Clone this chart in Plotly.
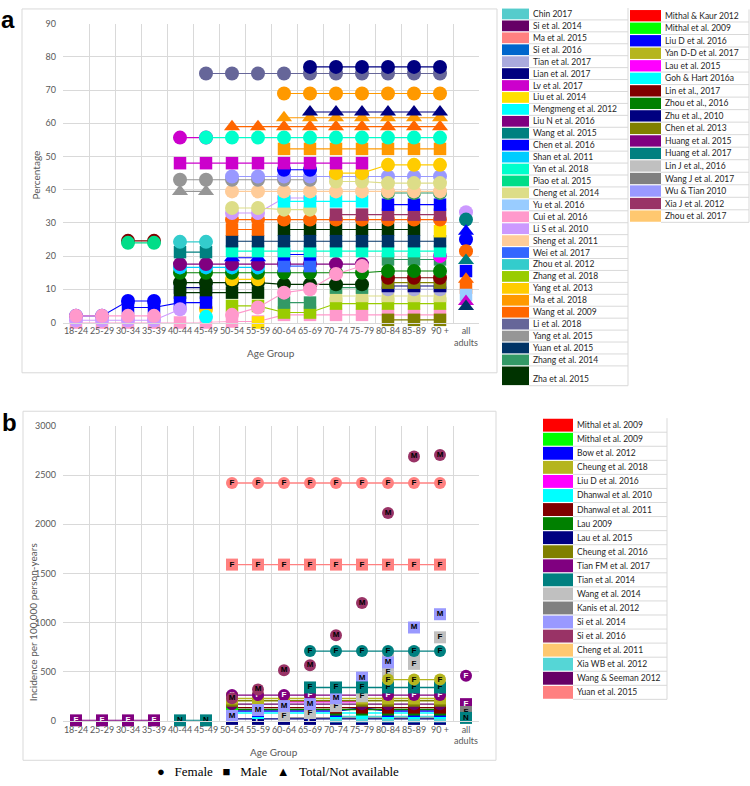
import plotly.graph_objects as go

N = None
W, H = 750, 786

# ---------------- categories ----------------
AGE = ["18-24", "25-29", "30-34", "35-39", "40-44", "45-49", "50-54", "55-59",
       "60-64", "65-69", "70-74", "75-79", "80-84", "85-89", "90 +", "all adults"]
AGE_TICKTEXT = AGE[:-1] + ["all<br>adults"]
AGES = AGE[:15]

# ---------------- panel a legend ----------------
A_LEG1 = ["Chin 2017", "Si et al. 2014", "Ma et al. 2015", "Si et al. 2016", "Tian et al. 2017",
          "Lian et al. 2017", "Lv et al. 2017", "Liu et al. 2014", "Mengmeng et al. 2012",
          "Liu N et al. 2016", "Wang et al. 2015", "Chen et al. 2016", "Shan et al. 2011",
          "Yan et al. 2018", "Piao et al. 2015", "Cheng et al. 2014", "Yu et al. 2016",
          "Cui et al. 2016", "Li S et al. 2010", "Sheng et al. 2011", "Wei et al. 2017",
          "Zhou et al. 2012", "Zhang et al. 2018", "Yang et al. 2013", "Ma et al. 2018",
          "Wang et al. 2009", "Li et al. 2018", "Yang et al. 2015", "Yuan et al. 2015",
          "Zhang et al. 2014", "Zha et al. 2015"]
A_COL1 = ["#55CCCC", "#660066", "#FF8080", "#0066CC", "#AAAADD", "#000080", "#CC00CC",
          "#FFE000", "#00FFFF", "#800080", "#008080", "#0000FF", "#00CCFF", "#00FFCC",
          "#00DD88", "#DDDD88", "#99CCFF", "#FF99CC", "#CC99FF", "#FFCC99", "#3366FF",
          "#33CCCC", "#99CC00", "#FFCC00", "#FF9900", "#FF6600", "#666699", "#969696",
          "#003366", "#339966", "#003300"]
A_LEG2 = ["Mithal & Kaur 2012", "Mithal et al. 2009", "Liu D et al. 2016", "Yan D-D et al. 2017",
          "Lau et al. 2015", "Goh & Hart 2016a", "Lin et al., 2017", "Zhou et al., 2016",
          "Zhu et al., 2010", "Chen et al. 2013", "Huang et al. 2015", "Huang et al. 2017",
          "Lin J et al., 2016", "Wang J et al. 2017", "Wu & Tian 2010", "Xia J et al. 2012",
          "Zhou et al. 2017"]
A_COL2 = ["#FF0000", "#00FF00", "#0000FF", "#B5B51E", "#FF00FF", "#00FFFF", "#800000",
          "#008000", "#000080", "#808000", "#800080", "#008080", "#C0C0C0", "#808080",
          "#9999FF", "#993366", "#FFC870"]

# ---------------- panel b legend ----------------
B_LEG = ["Mithal et al. 2009", "Mithal et al. 2009", "Bow et al. 2012", "Cheung et al. 2018",
         "Liu D et al. 2016", "Dhanwal et al. 2010", "Dhanwal et al. 2011", "Lau 2009",
         "Lau et al. 2015", "Cheung et al. 2016", "Tian FM et al. 2017", "Tian et al. 2014",
         "Wang et al. 2014", "Kanis et al. 2012", "Si et al. 2014", "Si et al. 2016",
         "Cheng et al. 2011", "Xia WB et al. 2012", "Wang & Seeman 2012", "Yuan et al. 2015"]
B_COL = ["#FF0000", "#00FF00", "#0000FF", "#B5B51E", "#FF00FF", "#00FFFF", "#800000",
         "#008000", "#000080", "#808000", "#800080", "#008080", "#C0C0C0", "#808080",
         "#9999FF", "#993366", "#FFC870", "#55D6D6", "#660066", "#FF8080"]

# ---------------- panel a values (percentage, by age group) ----------------
a_li2018_c = [N, N, N, N, N, 75, 75, 75, 75, 75, 75, 75, 75, 75, 75]
a_lian2017_c = [N, N, N, N, N, N, N, N, N, 77, 77, 77, 77, 77, 77]
a_ma2018_c = [N, N, N, N, N, N, N, N, 69, 69, 69, 69, 69, 69, 69]
a_lian2017_t = [N, N, N, N, N, N, N, N, N, 63.4, 63.4, 63.4, 63.4, 63.4, 63.4]
a_ma2018_t = [N, N, N, N, N, N, N, N, 61.7, 61.7, 61.7, 61.7, 61.7, 61.7, 61.7]
a_wang2009_t = [N, N, N, N, N, N, 59, 59, 59, 59, 59, 59, 59, 59, 59]
a_lv2017_c = [N, N, N, N, 55.7, 55.7, N, N, N, N, N, N, N, N, N]
a_yan2018_c = [N, N, N, N, N, 55.7, 55.7, 55.7, 55.7, 55.7, 55.7, 55.7, 55.7, 55.7, 55.7]
a_ma2018_s = [N, N, N, N, N, N, N, N, 52.3, 52.3, 52.3, 52.3, 52.3, 52.3, 52.3]
a_lv2017_s = [N, N, N, N, 48, 48, 48, 48, 48, 48, 48, 48, N, N, N]
a_yang2015_c = [N, N, N, N, 43, 43, 43, 43, 43, 43, N, N, N, N, N]
a_yang2015_t = [N, N, N, N, 39.5, 39.5, N, N, N, N, N, N, N, N, N]
a_wutian_c = [N, N, N, N, N, N, 44, 44, 44, 44, 44, 44, 44, 44, 44]
a_chen2016_c = [2, 2, 6.5, 6.5, N, N, N, N, N, N, N, N, N, N, N]
a_chen2016_c2 = [N, N, N, N, N, N, N, N, 46, 46, N, N, N, N, N]
a_sheng2011_c = [N, N, N, N, N, N, 39.5, 39.5, 39.5, 39.5, 39.5, 39.5, 39.5, 39.5, 39.5]
a_yang2013_c = [N, N, N, N, N, N, 13, 13, N, N, N, N, N, N, N]
a_yang2013_c2 = [N, N, N, N, N, 4, N, N, N, N, N, N, N, N, N]
a_yang2013_c3 = [N, N, N, N, N, N, N, N, N, N, 45, 45, 47.5, 47.5, 47.5]
a_cheng2014_c = [N, N, N, N, N, N, 34.5, 34.5, 34, 34, N, N, N, N, N]
a_cheng2014_c2 = [N, N, N, N, N, N, N, N, N, N, 42.5, 42.5, 42, 42, 42]
a_lis2010_c = [0.7, 0.7, 0.7, 0.7, 4, N, N, N, N, N, N, N, N, N, N]
a_lis2010_c2 = [N, N, N, N, N, N, 33, 33, 37.5, 37.5, N, N, N, N, N]
a_mengmeng_s = [N, N, N, N, N, N, N, N, 36.5, 36.5, 36.5, 36.5, N, N, N]
a_mengmeng_c = [N, N, N, N, N, 1.7, N, N, N, N, N, N, N, N, N]
a_chen2016_s = [N, N, 4.5, 4.5, 6, 6, N, N, N, N, N, N, N, N, N]
a_chen2016_s2 = [N, N, N, N, N, N, N, N, 20.5, 20.5, N, N, N, N, N]
a_chen2016_s3 = [N, N, N, N, N, N, N, N, N, N, N, N, 35.5, 35.5, 35.5]
a_wei2017_s = [N, N, N, N, N, N, N, N, 17, 17, N, N, N, N, N]
a_zhang2014_c = [N, N, N, N, N, N, N, N, N, N, N, N, 39, 39, 39]
a_xiaj_s = [N, N, N, N, N, N, N, N, N, N, 32.5, 32.5, 32.5, 32.5, 32.5]
a_wang2009_c = [N, N, N, N, N, N, 31, 31, 31, 31, 31, 31, 31, 31, 31]
a_wang2009_s = [N, N, N, N, N, N, 28, 28, N, N, N, N, N, N, N]
a_zha2015_s = [N, N, N, N, 9, 9, 9, 9, N, N, N, N, N, N, N]
a_zha2015_s2 = [N, N, N, N, N, N, N, N, 28, 28, 28, 28, 28, 28, N]
a_zha2015_c = [N, N, N, N, 12, 12, 12, 12, 11.5, 11.5, 11.5, 11.5, N, N, N]
a_liu2014_s = [N, N, N, N, N, N, N, 0, N, N, N, N, N, N, N]
a_liu2014_s2 = [N, N, N, N, N, N, N, N, N, N, N, N, N, N, 27.5]
a_yuan2015_s = [N, N, N, N, N, N, 24.5, 24.5, 24.5, 24.5, 24.5, 24.5, 24.5, 24.5, 24.5]
a_yan2018_s = [N, N, N, N, N, N, 21.5, 21.5, 21.5, 21.5, 21.5, 21.5, 21.5, 21.5, 21.5]
a_zhou2012_c = [N, N, N, N, 24.3, 24.3, N, N, N, N, N, N, N, N, N]
a_lin2017_c = [N, N, 24.6, 24.6, N, N, N, N, N, N, N, N, N, N, N]
a_lin2017_c2 = [N, N, N, N, N, N, N, N, N, N, N, N, 13.5, 13.5, 13.5]
a_piao2015_c = [N, N, 24, 24, N, N, N, N, N, N, N, N, N, N, N]
a_wang2015_s = [N, N, N, N, 21.2, 21.2, N, N, N, N, N, N, N, N, N]
a_chen2016_t = [N, N, N, N, N, N, 19.5, 19.5, N, N, N, N, N, N, N]
a_liun2016_c = [N, N, N, N, 17.6, 17.6, 17.6, 17.6, 17.6, 17.6, 17.6, 17.6, N, N, N]
a_shan2011_c = [N, N, N, N, 16.6, 16.6, 16.6, 16.6, N, N, N, N, N, N, N]
a_zhou2016_c = [N, N, N, N, 15, 15, 15, 15, 15, 15, 15, 15, 15.5, 15.5, 15.5]
a_cui2016_c = [2, 2, 2, 2, N, N, 2.3, 4.5, 9, 10, 14.6, 17, N, N, N]
a_cui2016_s = [0, 0, 0, 0, 0, 0, 0.3, 0.3, 2.3, 2.3, 2.3, 2.3, 2.3, 2.3, 2.3]
a_zhang2018_s = [N, N, N, N, N, N, 5, 5, 3, 3, 5.7, 5.7, 5.7, 5.7, 5.7]
a_zhang2014_s = [N, N, N, N, N, N, N, N, 6, 6, N, N, N, N, N]
a_zhang2014_s2 = [N, N, N, N, N, N, N, N, N, N, 10.5, 10.5, N, N, N]
a_zhang2014_s3 = [N, N, N, N, N, N, N, N, N, N, N, N, 19, 19, 19]
a_lau2015_c = [N, N, N, N, N, N, N, N, N, N, N, N, N, N, 20]
a_chen2013_s = [N, N, N, N, N, N, N, N, N, N, N, N, 0.8, 0.8, 0.8]
a_chen2013_s2 = [N, N, N, N, N, N, N, N, N, N, N, N, 12, 12, 12]
a_zhu2010_s = [N, N, N, N, 10.5, 10.5, N, N, N, N, N, N, N, N, N]
a_zhu2010_s2 = [N, N, N, N, N, N, N, N, N, N, N, N, 11, 11, 11]
a_cheng2014_s = [N, N, N, N, N, N, N, N, N, N, 8, 8, 8, 8, 8]
a_tian2017_c = [N, N, N, N, N, N, N, N, N, N, N, N, 10, 10, 10]

# "all adults" column of panel a
a_all_study = ["Li S et al. 2010", "Huang et al. 2017", "Liu D et al. 2016", "Liu D et al. 2016",
               "Wang et al. 2009", "Huang et al. 2017", "Chen et al. 2016", "Wang et al. 2009",
               "Wang et al. 2009", "Yu et al. 2016", "Lv et al. 2017", "Yuan et al. 2015"]
a_all_symbol = ["circle", "circle", "triangle-up", "circle", "circle", "triangle-up", "square",
                "triangle-up", "square", "square", "triangle-up", "triangle-up"]
a_all_value = [33.2, 31, 27.5, 25, 21.5, 18.7, 15.5, 13, 10.5, 8.3, 6.3, 4.8]

# ---------------- panel b values (incidence per 100,000 person-years) ----------------
b_yuan_c = [N, N, N, N, N, N, 2420, 2420, 2420, 2420, 2420, 2420, 2420, 2420, 2420]
b_yuan_s = [N, N, N, N, N, N, 1590, 1590, 1590, 1590, 1590, 1590, 1590, 1590, 1590]
b_si2016_c = [N, N, N, N, N, N, 230, 320, 515, 565, 870, 1200, 2115, 2690, 2705]
b_tian2014_c = [N, N, N, N, N, N, N, N, N, 710, 710, 710, 710, 710, 710]
b_tian2014_s = [N, N, N, N, N, N, N, N, N, 340, 340, 340, 340, 340, 340]
b_tian2014_n = [N, N, N, N, 5, 5, N, N, N, N, N, N, N, N, N]
b_tianfm_s = [5, 5, 5, 5, N, N, N, N, N, N, N, N, N, N, N]
b_tianfm_c = [N, N, N, N, N, N, 262, 262, 262, 262, 262, 262, 262, 262, 262]
b_si2014_s = [N, N, N, N, N, N, 50, 110, 150, 170, 230, 440, 595, 950, 1085]
b_wang2014_s = [N, N, N, N, N, N, N, N, 50, 80, 150, 250, 500, 580, 850]
b_wang2014_s2 = [N, N, N, N, N, N, N, N, N, N, N, N, 640, 690, N]
b_cheung2018_c = [N, N, N, N, N, N, N, N, N, N, N, N, 420, 420, 420]
b_cheung2018_s = [N, N, N, N, N, N, 228, 228, 228, 228, 228, 228, 228, 228, 228]
b_cheung2016_s = [N, N, N, N, N, N, 205, 205, 205, 205, 205, 205, 205, 205, 205]
b_wangseeman_c = [N, N, N, N, N, N, 170, 170, 170, 170, 170, 170, 170, 170, 170]
b_liud_c = [N, N, N, N, N, N, N, N, 195, 195, 195, 195, N, N, N]
b_dhanwal2011_s = [N, N, N, N, N, N, 135, 135, 135, 135, 135, 135, 135, 135, 135]
b_lau2009_s = [N, N, N, N, N, N, 115, 115, 115, 115, 115, 115, 115, 115, 115]
b_bow2012_s = [N, N, N, N, N, N, 100, 100, 100, 100, 100, 130, 100, 100, 100]
b_dhanwal2010_s = [N, N, N, N, N, N, 80, 80, 80, 80, 80, 80, 80, 80, 80]
b_lau2015_s = [N, N, N, N, N, N, 20, 20, 20, 20, 20, 20, 20, 20, 20]
b_xiawb_s = [N, N, N, N, N, N, N, N, N, N, 45, 45, 45, 45, 45]
b_kanis_s = [N, N, N, N, N, N, N, N, 30, 30, 30, 30, 30, 30, 30]
b_mithal_g_c = [N, N, N, N, N, N, 120, N, N, N, N, N, N, N, N]

b_all_idx = [10, 10, 13, 11]
b_all_symbol = ["circle", "square", "square", "square"]
b_all_label = ["F", "F", "F", "N"]
b_all_value = [460, 170, 90, 30]

# ---------------- build tables ----------------
A_COLOR = dict(zip(A_LEG1 + A_LEG2, A_COL1 + A_COL2))

A_SERIES = [
    ("Cui et al. 2016", "square", a_cui2016_s), ("Chen et al. 2013", "square", a_chen2013_s),
    ("Zhang et al. 2018", "square", a_zhang2018_s), ("Cheng et al. 2014", "square", a_cheng2014_s),
    ("Tian et al. 2017", "circle", a_tian2017_c), ("Zhu et al., 2010", "square", a_zhu2010_s),
    ("Zhu et al., 2010", "square", a_zhu2010_s2),
    ("Chen et al. 2013", "square", a_chen2013_s2), ("Zha et al. 2015", "square", a_zha2015_s),
    ("Zha et al. 2015", "square", a_zha2015_s2),
    ("Zhang et al. 2014", "square", a_zhang2014_s), ("Zhang et al. 2014", "square", a_zhang2014_s2),
    ("Zhang et al. 2014", "square", a_zhang2014_s3),
    ("Lin et al., 2017", "circle", a_lin2017_c), ("Lin et al., 2017", "circle", a_lin2017_c2),
    ("Zha et al. 2015", "circle", a_zha2015_c), ("Yang et al. 2013", "circle", a_yang2013_c),
    ("Yang et al. 2013", "circle", a_yang2013_c2),
    ("Zhou et al., 2016", "circle", a_zhou2016_c), ("Shan et al. 2011", "circle", a_shan2011_c),
    ("Liu N et al. 2016", "circle", a_liun2016_c), ("Wei et al. 2017", "square", a_wei2017_s),
    ("Chen et al. 2016", "square", a_chen2016_s2), ("Chen et al. 2016", "triangle-up", a_chen2016_t),
    ("Lau et al. 2015", "circle", a_lau2015_c), ("Wang et al. 2015", "square", a_wang2015_s),
    ("Yan et al. 2018", "square", a_yan2018_s), ("Piao et al. 2015", "circle", a_piao2015_c),
    ("Zhou et al. 2012", "circle", a_zhou2012_c), ("Yuan et al. 2015", "square", a_yuan2015_s),
    ("Liu et al. 2014", "square", a_liu2014_s), ("Liu et al. 2014", "square", a_liu2014_s2),
    ("Wang et al. 2009", "square", a_wang2009_s),
    ("Wang et al. 2009", "circle", a_wang2009_c), ("Xia J et al. 2012", "square", a_xiaj_s),
    ("Li S et al. 2010", "circle", a_lis2010_c2), ("Cheng et al. 2014", "circle", a_cheng2014_c),
    ("Mengmeng et al. 2012", "square", a_mengmeng_s), ("Mengmeng et al. 2012", "circle", a_mengmeng_c),
    ("Chen et al. 2016", "square", a_chen2016_s), ("Chen et al. 2016", "square", a_chen2016_s3),
    ("Zhang et al. 2014", "circle", a_zhang2014_c),
    ("Chen et al. 2016", "circle", a_chen2016_c), ("Li S et al. 2010", "circle", a_lis2010_c),
    ("Cui et al. 2016", "circle", a_cui2016_c), ("Sheng et al. 2011", "circle", a_sheng2011_c),
    ("Yang et al. 2015", "triangle-up", a_yang2015_t), ("Yang et al. 2015", "circle", a_yang2015_c),
    ("Wu & Tian 2010", "circle", a_wutian_c), ("Cheng et al. 2014", "circle", a_cheng2014_c2),
    ("Chen et al. 2016", "circle", a_chen2016_c2), ("Yang et al. 2013", "circle", a_yang2013_c3),
    ("Lv et al. 2017", "square", a_lv2017_s), ("Ma et al. 2018", "square", a_ma2018_s),
    ("Lv et al. 2017", "circle", a_lv2017_c), ("Yan et al. 2018", "circle", a_yan2018_c),
    ("Wang et al. 2009", "triangle-up", a_wang2009_t), ("Ma et al. 2018", "triangle-up", a_ma2018_t),
    ("Lian et al. 2017", "triangle-up", a_lian2017_t), ("Ma et al. 2018", "circle", a_ma2018_c),
    ("Li et al. 2018", "circle", a_li2018_c), ("Lian et al. 2017", "circle", a_lian2017_c),
]

# (legend index, symbol, label, values, draw line)
B_SERIES = [
    (13, "square", "F", b_kanis_s, True), (8, "square", "F", b_lau2015_s, True),
    (17, "square", "F", b_xiawb_s, True), (5, "square", "F", b_dhanwal2010_s, True),
    (2, "square", "F", b_bow2012_s, True), (7, "square", "F", b_lau2009_s, True),
    (6, "square", "F", b_dhanwal2011_s, True), (1, "circle", "F", b_mithal_g_c, True),
    (4, "circle", "F", b_liud_c, True), (18, "circle", "F", b_wangseeman_c, True),
    (9, "square", "F", b_cheung2016_s, True), (3, "square", "F", b_cheung2018_s, True),
    (10, "circle", "F", b_tianfm_c, True), (12, "square", "F", b_wang2014_s, False),
    (12, "square", "F", b_wang2014_s2, False), (14, "square", "M", b_si2014_s, False),
    (11, "square", "F", b_tian2014_s, True), (3, "circle", "F", b_cheung2018_c, True),
    (11, "circle", "F", b_tian2014_c, True), (15, "circle", "M", b_si2016_c, False),
    (19, "square", "F", b_yuan_s, True), (19, "circle", "F", b_yuan_c, True),
    (10, "square", "F", b_tianfm_s, True), (11, "square", "N", b_tian2014_n, True),
]

# ---------------- figure ----------------
def px(x):
    return x / W


def py(y):
    return 1 - y / H


fig = go.Figure()
MSIZE = {"circle": 14, "square": 12.5, "triangle-up": 14}

for study, sym, vals in A_SERIES:
    c = A_COLOR[study]
    fig.add_trace(go.Scatter(
        x=AGES, y=vals, mode="lines+markers", xaxis="x", yaxis="y",
        line=dict(color=c, width=1.1), connectgaps=False, cliponaxis=False,
        marker=dict(symbol=sym, size=MSIZE[sym], color=c, line=dict(width=0)),
        showlegend=False, hoverinfo="skip"))

for study, sym, v in zip(a_all_study, a_all_symbol, a_all_value):
    c = A_COLOR[study]
    fig.add_trace(go.Scatter(
        x=["all adults"], y=[v], mode="markers", xaxis="x", yaxis="y", cliponaxis=False,
        marker=dict(symbol=sym, size=MSIZE[sym], color=c, line=dict(width=0)),
        showlegend=False, hoverinfo="skip"))

DARK_TEXT = {10: "white", 18: "white", 8: "white"}
for idx, sym, lab, vals, drawline in B_SERIES:
    c = B_COL[idx]
    fig.add_trace(go.Scatter(
        x=AGES, y=vals, mode=("lines+markers+text" if drawline else "markers+text"),
        xaxis="x2", yaxis="y2", cliponaxis=False, connectgaps=False,
        text=[lab if v is not None else "" for v in vals], textposition="middle center",
        textfont=dict(family="Liberation Sans", size=8, color=DARK_TEXT.get(idx, "black"), weight="bold"),
        line=dict(color=c, width=1.4),
        marker=dict(symbol=sym, size=12, color=c, line=dict(width=0)),
        showlegend=False, hoverinfo="skip"))

for idx, sym, lab, v in zip(b_all_idx, b_all_symbol, b_all_label, b_all_value):
    c = B_COL[idx]
    fig.add_trace(go.Scatter(
        x=["all adults"], y=[v], mode="markers+text", xaxis="x2", yaxis="y2", cliponaxis=False,
        text=[lab], textposition="middle center",
        textfont=dict(family="Liberation Sans", size=8, color=DARK_TEXT.get(idx, "black"), weight="bold"),
        marker=dict(symbol=sym, size=12, color=c, line=dict(width=0)),
        showlegend=False, hoverinfo="skip"))

TICKF = dict(family="Lato", size=9, color="#595959")
GRID = "#D9D9D9"
xcommon = dict(type="category", categoryorder="array", categoryarray=AGE,
               tickvals=AGE, ticktext=AGE_TICKTEXT, range=[-0.5, 15.5], tickson="boundaries",
               showgrid=True, gridcolor=GRID, gridwidth=1, ticks="", tickangle=0,
               showline=True, linecolor=GRID, tickfont=TICKF, fixedrange=True)

fig.update_layout(
    width=W, height=H, margin=dict(l=0, r=0, t=0, b=0),
    paper_bgcolor="white", plot_bgcolor="white", showlegend=False,
    xaxis=dict(domain=[px(63), px(479)], anchor="y", **xcommon),
    yaxis=dict(domain=[py(321), py(18)], anchor="x", range=[0, 90], dtick=10,
               showgrid=True, gridcolor=GRID, zeroline=False, ticks="", tickfont=TICKF,
               ticklabelstandoff=6),
    xaxis2=dict(domain=[px(63), px(479)], anchor="y2", **xcommon),
    yaxis2=dict(domain=[py(725), py(426)], anchor="x2", range=[0, 3000], dtick=500,
                showgrid=True, gridcolor=GRID, zeroline=False, ticks="", tickfont=TICKF,
                ticklabelstandoff=6),
)

shapes = []
ann = []

# chart borders
shapes.append(dict(type="rect", xref="paper", yref="paper", x0=px(22), x1=px(497), y0=py(372), y1=py(3),
                   line=dict(color="#D9D9D9", width=1)))
shapes.append(dict(type="rect", xref="paper", yref="paper", x0=px(23), x1=px(496), y0=py(765), y1=py(411),
                   line=dict(color="#D9D9D9", width=1)))


def note(text, x, y, size, family="Lato", color="#595959", angle=0):
    ann.append(dict(text=text, x=px(x), y=py(y), xref="paper", yref="paper", showarrow=False,
                    xanchor="center", yanchor="middle", textangle=angle,
                    font=dict(family=family, size=size, color=color)))


note("<b>a</b>", 8, 14, 24, "Liberation Sans", "black")
note("<b>b</b>", 9, 422, 24, "Liberation Sans", "black")
note("Percentage", 36, 172, 10, angle=-90)
note("Age Group", 271, 352, 10)
note("Incidence per 100,000 person-years", 33, 625, 10, angle=-90)
note("Age Group", 274, 757, 10)
note("\u25CF   Female   \u25A0   Male   \u25B2   Total/Not available", 278, 776, 13,
     "Liberation Serif", "black")

LEGF = dict(family="Lato", size=8.5, color="#262626")


def legend_table(names, colors, x0, x1, xr, top, step, last_tall=0):
    n = len(names)
    y = top
    for i, (nm, c) in enumerate(zip(names, colors)):
        h = step + (last_tall if i == n - 1 else 0)
        shapes.append(dict(type="rect", xref="paper", yref="paper", x0=px(x0), x1=px(x1),
                           y0=py(y + h - 0.6), y1=py(y + 0.6), fillcolor=c, line=dict(width=0)))
        shapes.append(dict(type="line", xref="paper", yref="paper", x0=px(x1), x1=px(xr),
                           y0=py(y + h), y1=py(y + h), line=dict(color="#D9D9D9", width=1)))
        ty = y + h / 2 + (last_tall * 0.35 if i == n - 1 else 0)
        ann.append(dict(text=nm, x=px(x1 + 2), y=py(ty), xref="paper", yref="paper", showarrow=False,
                        xanchor="left", yanchor="middle", font=LEGF))
        y += h
    shapes.append(dict(type="line", xref="paper", yref="paper", x0=px(xr), x1=px(xr),
                       y0=py(top), y1=py(y), line=dict(color="#D9D9D9", width=1)))


legend_table(A_LEG1, A_COL1, 502, 529, 628, 2, 12.1, last_tall=8)
legend_table(A_LEG2, A_COL2, 630, 661, 749, 3.5, 12.7)
legend_table(B_LEG, B_COL, 543, 573, 667, 418, 14.26)

fig.update_layout(shapes=shapes, annotations=ann)
fig.write_html("out.html", config={"displayModeBar": False},
               post_script="document.body.style.margin='0';document.body.style.overflow='hidden';")
